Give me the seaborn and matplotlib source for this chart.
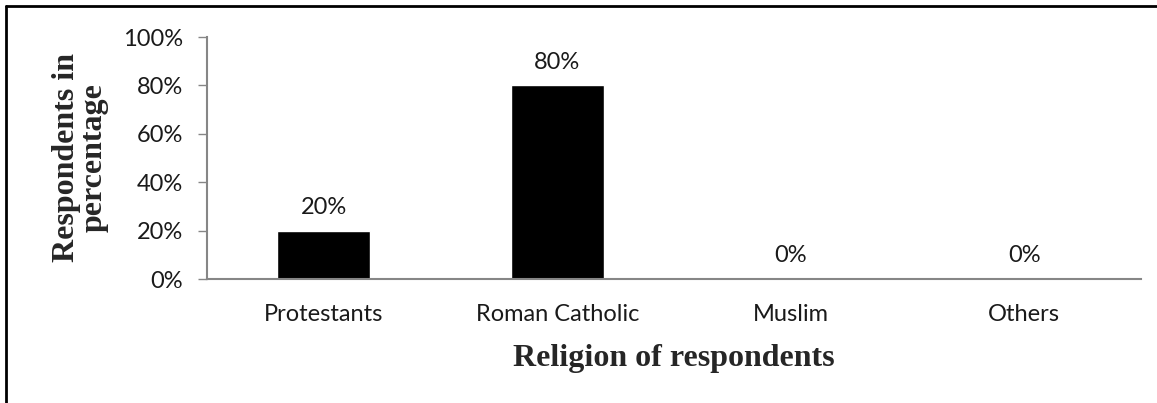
import pandas as pd
import matplotlib.pyplot as plt
import seaborn as sns
from matplotlib.lines import Line2D
from matplotlib.ticker import PercentFormatter

# Religion of respondents
religions = ['Protestants', 'Roman Catholic', 'Muslim', 'Others']
shares = [0.20, 0.80, 0.0, 0.0]
labels = ['20%', '80%', '0%', '0%']

df = pd.DataFrame({'Religion': religions, 'Share': shares})

sns.set_style('white')
plt.rcParams['font.family'] = ['Lato', 'DejaVu Sans']

fig = plt.figure(figsize=(11.57, 4.03), dpi=100)
ax = fig.add_axes([207 / 1157, 1 - 279 / 403, (1141 - 207) / 1157, (279 - 37) / 403])

sns.barplot(data=df, x='Religion', y='Share', color='black', width=0.40,
            saturation=1, ax=ax)

# value labels above the bars
for i, (v, t) in enumerate(zip(shares, labels)):
    ax.annotate(t, (i, v), xytext=(0, 9), textcoords='offset points',
                ha='center', va='bottom', fontsize=17, color='#1a1a1a')

ax.set_ylim(0, 1)
ax.set_xlim(-0.5, 3.5)
ax.set_yticks([0, 0.2, 0.4, 0.6, 0.8, 1.0])
ax.yaxis.set_major_formatter(PercentFormatter(1.0, decimals=0))
ax.tick_params(axis='y', length=6.5, width=1, color='#868686', labelsize=17,
               labelcolor='#1a1a1a', left=True, pad=11)
ax.tick_params(axis='x', length=0, labelsize=17, labelcolor='#1a1a1a', pad=18)

for s in ['top', 'right']:
    ax.spines[s].set_visible(False)
for s in ['left', 'bottom']:
    ax.spines[s].set_color('#868686')
    ax.spines[s].set_linewidth(1.5)

ax.set_xlabel('Religion of respondents', fontfamily='Liberation Serif',
              fontweight='bold', fontsize=23, labelpad=14)
ax.set_ylabel('Respondents in\npercentage', fontfamily='Liberation Serif',
              fontweight='bold', fontsize=23, labelpad=10, linespacing=0.95)

# frame lines along the top and left edges
fig.add_artist(Line2D([6 / 1157, 1], [1 - 6 / 403, 1 - 6 / 403],
                      transform=fig.transFigure, color='black', lw=2))
fig.add_artist(Line2D([6 / 1157, 6 / 1157], [0, 1 - 6 / 403],
                      transform=fig.transFigure, color='black', lw=2))

fig.savefig('out.png', dpi=100)
